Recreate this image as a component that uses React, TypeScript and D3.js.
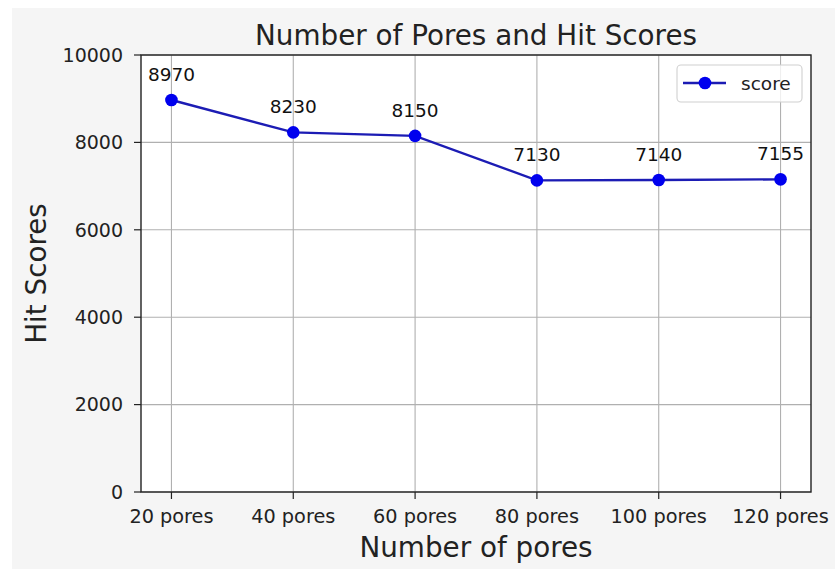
import React from "react";
import * as d3 from "d3";

const categories = ["20 pores", "40 pores", "60 pores", "80 pores", "100 pores", "120 pores"];
const scores = [8970, 8230, 8150, 7130, 7140, 7155];
const yTicks = [0, 2000, 4000, 6000, 8000, 10000];
const title = "Number of Pores and Hit Scores";
const xLabel = "Number of pores";
const yLabel = "Hit Scores";
const seriesName = "score";

const W = 835;
const H = 569;
const M = { left: 141, right: 811, top: 55, bottom: 492 };
const FONT = "DejaVu Sans, sans-serif";
const LINE = "#1c1cb4";
const MARK = "#0000ee";

export default function App() {
  const x = d3.scaleLinear().domain([-0.25, categories.length - 1 + 0.25]).range([M.left, M.right]);
  const y = d3.scaleLinear().domain([0, 10000]).range([M.bottom, M.top]);
  const line = d3
    .line<number>()
    .x((_, i) => x(i))
    .y((d) => y(d));
  const cx = (M.left + M.right) / 2;
  const cy = (M.top + M.bottom) / 2;
  const lg = { x: 677, y: 65, w: 125, h: 37 };

  return (
    <svg width={W} height={H} style={{ position: "absolute", left: 0, top: 0 }} fontFamily={FONT}>
      <rect x={0} y={0} width={W} height={H} fill="#ffffff" />
      <rect x={12} y={8} width={W - 12} height={H - 8} fill="#f5f5f5" />
      <rect x={M.left} y={M.top} width={M.right - M.left} height={M.bottom - M.top} fill="#ffffff" />
      {/* grid */}
      {categories.map((c, i) => (
        <line key={"gx" + i} x1={x(i)} x2={x(i)} y1={M.top} y2={M.bottom} stroke="#b0b0b0" strokeWidth={1.1} />
      ))}
      {yTicks.map((t) => (
        <line key={"gy" + t} x1={M.left} x2={M.right} y1={y(t)} y2={y(t)} stroke="#b0b0b0" strokeWidth={1.1} />
      ))}
      {/* data line */}
      <path d={line(scores) || ""} fill="none" stroke={LINE} strokeWidth={2.4} />
      {scores.map((s, i) => (
        <circle key={"m" + i} cx={x(i)} cy={y(s)} r={6.3} fill={MARK} />
      ))}
      {scores.map((s, i) => (
        <text key={"a" + i} x={x(i)} y={y(s) - 19.3} textAnchor="middle" fontSize={18.5} fill="#111">
          {s}
        </text>
      ))}
      {/* spines */}
      <rect x={M.left} y={M.top} width={M.right - M.left} height={M.bottom - M.top} fill="none" stroke="#222" strokeWidth={1.4} />
      {/* x ticks */}
      {categories.map((c, i) => (
        <g key={"xt" + i}>
          <line x1={x(i)} x2={x(i)} y1={M.bottom} y2={M.bottom + 7} stroke="#222" strokeWidth={1.2} />
          <text x={x(i)} y={523} textAnchor="middle" fontSize={19.3} fill="#222">
            {c}
          </text>
        </g>
      ))}
      {/* y ticks */}
      {yTicks.map((t) => (
        <g key={"yt" + t}>
          <line x1={M.left - 7} x2={M.left} y1={y(t)} y2={y(t)} stroke="#222" strokeWidth={1.2} />
          <text x={123} y={y(t)} dy="0.36em" textAnchor="end" fontSize={19} fill="#222">
            {t}
          </text>
        </g>
      ))}
      {/* titles */}
      <text x={cx} y={45} textAnchor="middle" fontSize={27.8} fill="#222">
        {title}
      </text>
      <text x={cx} y={557} textAnchor="middle" fontSize={27.8} fill="#222">
        {xLabel}
      </text>
      <text transform={`translate(46,${cy}) rotate(-90)`} textAnchor="middle" fontSize={27.8} fill="#222">
        {yLabel}
      </text>
      {/* legend */}
      <rect x={lg.x} y={lg.y} width={lg.w} height={lg.h} rx={4} fill="#ffffff" fillOpacity={0.8} stroke="#d0d0d0" strokeWidth={1.1} />
      <line x1={683} x2={726} y1={83} y2={83} stroke={LINE} strokeWidth={2.4} />
      <circle cx={705} cy={83} r={6.3} fill={MARK} />
      <text x={741} y={89.5} fontSize={18.5} fill="#222">
        {seriesName}
      </text>
    </svg>
  );
}
